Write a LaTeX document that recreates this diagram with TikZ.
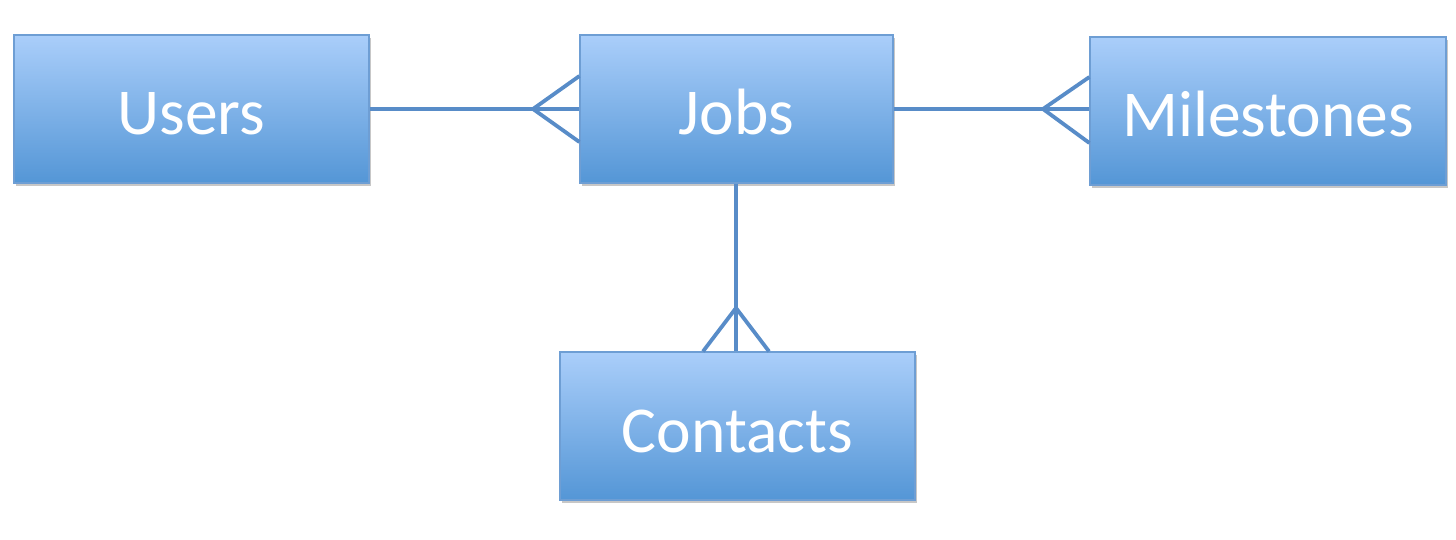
\documentclass[tikz,border=0pt]{standalone}
\usepackage{fontspec}
\setmainfont{Carlito}
\usetikzlibrary{calc,shadows}
\definecolor{boxtop}{RGB}{170,206,250}
\definecolor{boxbot}{RGB}{84,150,214}
\definecolor{boxline}{RGB}{110,158,212}
\definecolor{linkcol}{RGB}{88,140,200}
\tikzset{
  entity/.style={rectangle, draw=boxline, line width=1.2pt, top color=boxtop, bottom color=boxbot,
    text=white, font=\fontsize{65.5}{72}\selectfont, inner sep=0pt, text height=60pt, text depth=8pt,
    drop shadow={shadow xshift=2pt, shadow yshift=-3pt, fill=black, opacity=0.22}},
  link/.style={draw=linkcol, line width=3.8pt, line cap=butt, line join=miter}
}
\begin{document}
\begin{tikzpicture}[x=1pt,y=-1pt]
\useasboundingbox (0,0) rectangle (1456,540);
\node[entity, minimum width=355pt, minimum height=148pt] (users) at (191.5,109) {Users};
\node[entity, minimum width=313pt, minimum height=148pt] (jobs) at (736.5,109) {Jobs};
\node[entity, minimum width=356pt, minimum height=148pt] (miles) at (1268,111) {Milestones};
\node[entity, minimum width=355pt, minimum height=148pt] (contacts) at (737.5,426) {Contacts};
% Users -- Jobs
\coordinate (a1) at (533,109);
\draw[link] (users.east |- a1) -- (jobs.west |- a1);
\draw[link] ($(jobs.west |- a1)+(0,-33)$) -- (a1) -- ($(jobs.west |- a1)+(0,33)$);
% Jobs -- Milestones
\coordinate (a2) at (1043,109);
\draw[link] (jobs.east |- a2) -- (miles.west |- a2);
\draw[link] ($(miles.west |- a2)+(0,-32)$) -- (a2) -- ($(miles.west |- a2)+(0,34)$);
% Jobs -- Contacts
\coordinate (a3) at (736,308);
\draw[link] (jobs.south -| a3) -- (contacts.north -| a3);
\draw[link] ($(contacts.north -| a3)+(-33,0)$) -- (a3) -- ($(contacts.north -| a3)+(33,0)$);
\end{tikzpicture}
\end{document}
